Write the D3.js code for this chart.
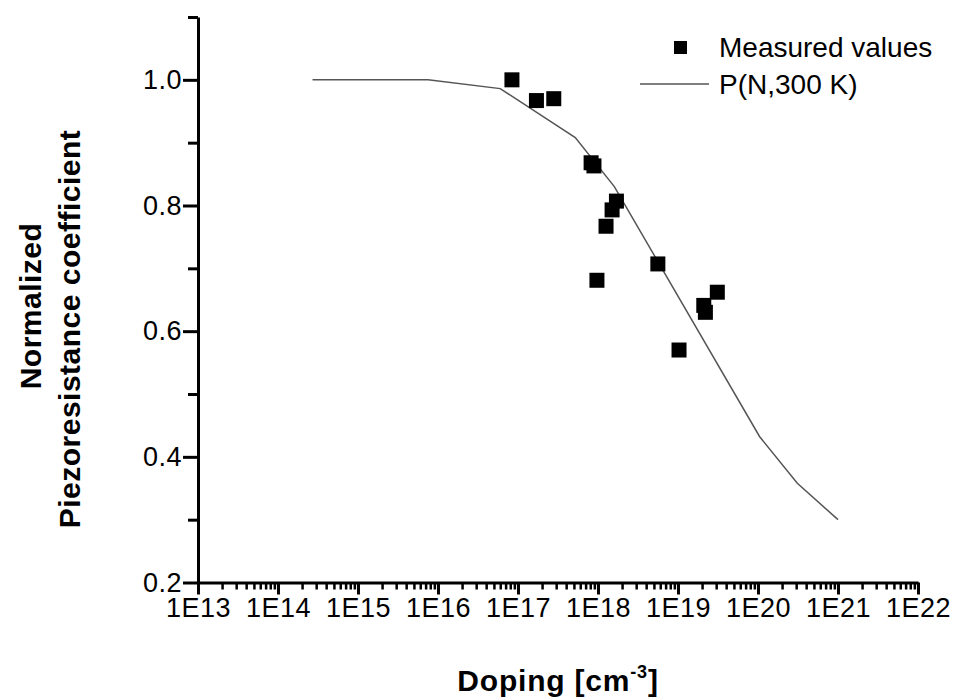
<!DOCTYPE html>
<html>
<head>
<meta charset="utf-8">
<script src="https://cdn.jsdelivr.net/npm/d3@7"></script>
<style>
  body { margin: 0; background: #fff; }
  text { font-family: "Liberation Sans", Arial, sans-serif; fill: #000; }
</style>
</head>
<body>
<script>
// measured points
const measuredN = [8.4e16, 1.7e17, 2.8e17, 8.2e17, 8.9e17, 1.7e18, 1.5e18, 1.26e18, 9.7e17, 5.6e18, 1.03e19, 2.1e19, 2.2e19, 3.1e19];
const measuredP = [1.0, 0.967, 0.970, 0.868, 0.863, 0.807, 0.793, 0.767, 0.681, 0.707, 0.570, 0.641, 0.630, 0.662];

// model curve P(N,300 K)
const modelN = [2.7e14, 7.5e15, 6e16, 5.2e17, 1.6e18, 1.05e20, 3.1e20, 1e21];
const modelP = [1.0, 1.0, 0.986, 0.908, 0.83, 0.432, 0.358, 0.30];

const xExponents = [13, 14, 15, 16, 17, 18, 19, 20, 21, 22];
const yTicks = [0.2, 0.4, 0.6, 0.8, 1.0];
const yMinor = [0.3, 0.5, 0.7, 0.9, 1.1];

const width = 958, height = 700;

const svg = d3.select("body").append("svg")
  .attr("width", width)
  .attr("height", height);

const x = d3.scaleLog().domain([1e13, 1e22]).range([198, 918]);
const y = d3.scaleLinear().domain([0.2, 1.1]).range([582.5, 17]);

const majorX = xExponents.map(e => Math.pow(10, e));
const minorX = [];
xExponents.slice(0, -1).forEach(e => {
  for (let m = 2; m <= 9; m++) minorX.push(m * Math.pow(10, e));
});

// x axis
const xMinorAxis = d3.axisBottom(x).tickValues(minorX).tickSize(7).tickSizeOuter(0).tickFormat("");
const xAxis = d3.axisBottom(x).tickValues(majorX).tickSize(12).tickSizeOuter(0)
  .tickFormat(d => "1E" + Math.round(Math.log10(d)));

const gxm = svg.append("g").attr("transform", `translate(0,${y(0.2)})`).call(xMinorAxis);
gxm.select(".domain").remove();
gxm.selectAll("line").attr("stroke", "#000").attr("stroke-width", 2.5);

const gx = svg.append("g").attr("transform", `translate(0,${y(0.2)})`).call(xAxis);
gx.select(".domain").attr("stroke", "#000").attr("stroke-width", 3);
gx.selectAll("line").attr("stroke", "#000").attr("stroke-width", 3);
gx.selectAll("text").attr("font-size", 27).attr("letter-spacing", 0.5).attr("dy", "0.8em").attr("y", 13);

// y axis
const yMinorAxis = d3.axisLeft(y).tickValues(yMinor).tickSize(10).tickSizeOuter(0).tickFormat("");
const yAxis = d3.axisLeft(y).tickValues(yTicks).tickSize(15).tickSizeOuter(0).tickFormat(d3.format(".1f"));

const gym = svg.append("g").attr("transform", `translate(${x(1e13)},0)`).call(yMinorAxis);
gym.select(".domain").remove();
gym.selectAll("line").attr("stroke", "#000").attr("stroke-width", 3);

const gy = svg.append("g").attr("transform", `translate(${x(1e13)},0)`).call(yAxis);
gy.select(".domain").attr("stroke", "#000").attr("stroke-width", 3);
gy.selectAll("line").attr("stroke", "#000").attr("stroke-width", 3);
gy.selectAll("text").attr("font-size", 27).attr("letter-spacing", 0.5).attr("x", -16);

// model line
const line = d3.line().x(d => x(d[0])).y(d => y(d[1]));
svg.append("path")
  .datum(modelN.map((n, i) => [n, modelP[i]]))
  .attr("d", line)
  .attr("fill", "none")
  .attr("stroke", "#555")
  .attr("stroke-width", 1.5);

// measured squares
const sq = 15;
svg.append("g").selectAll("rect")
  .data(measuredN.map((n, i) => [n, measuredP[i]]))
  .enter().append("rect")
  .attr("x", d => x(d[0]) - sq / 2)
  .attr("y", d => y(d[1]) - sq / 2)
  .attr("width", sq)
  .attr("height", sq)
  .attr("fill", "#000");

// legend
const legend = svg.append("g");
legend.append("rect").attr("x", 674).attr("y", 41).attr("width", 13).attr("height", 13).attr("fill", "#000");
legend.append("text").attr("x", 719).attr("y", 57).attr("font-size", 28).text("Measured values");
legend.append("line").attr("x1", 640).attr("x2", 709).attr("y1", 84).attr("y2", 84)
  .attr("stroke", "#555").attr("stroke-width", 1.5);
legend.append("text").attr("x", 719).attr("y", 94).attr("font-size", 28).text("P(N,300 K)");

// axis titles
const xt = svg.append("text")
  .attr("x", 558).attr("y", 691)
  .attr("text-anchor", "middle")
  .attr("font-size", 30).attr("font-weight", "bold").attr("letter-spacing", 0.8);
xt.append("tspan").text("Doping [cm");
xt.append("tspan").attr("font-size", 18).attr("dy", -13).text("-3");
xt.append("tspan").attr("dy", 13).text("]");

svg.append("text")
  .attr("transform", "translate(41,306) rotate(-90)")
  .attr("text-anchor", "middle")
  .attr("font-size", 30).attr("font-weight", "bold").attr("letter-spacing", 0.5)
  .text("Normalized");
svg.append("text")
  .attr("transform", "translate(80,329) rotate(-90)")
  .attr("text-anchor", "middle")
  .attr("font-size", 30).attr("font-weight", "bold").attr("letter-spacing", 0.5)
  .text("Piezoresistance coefficient");
</script>
</body>
</html>
